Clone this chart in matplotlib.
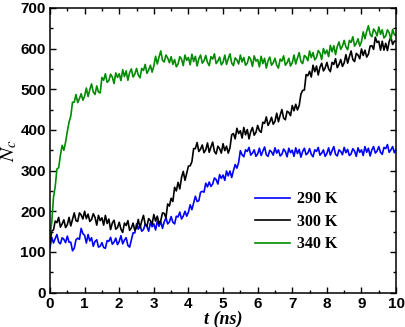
import numpy as np
import matplotlib
matplotlib.use("Agg")
import matplotlib.pyplot as plt
from matplotlib.ticker import MultipleLocator

plt.rcParams["mathtext.fontset"] = "stix"

# N_c every 0.05 ns (0 .. 10 ns), noise included
n_290 = [
    110, 136, 122, 133, 143, 124, 120, 135, 131, 123,
    139, 124, 124, 103, 109, 130, 134, 131, 158, 145,
    141, 122, 143, 127, 135, 114, 126, 130, 112, 114,
    123, 111, 109, 128, 126, 136, 119, 124, 134, 118,
    126, 140, 120, 129, 135, 116, 112, 129, 147, 147,
    169, 156, 166, 151, 155, 168, 163, 151, 172, 162,
    169, 154, 176, 163, 175, 158, 174, 184, 169, 174,
    187, 173, 169, 188, 186, 198, 181, 188, 200, 188,
    198, 216, 204, 221, 237, 224, 226, 247, 249, 247,
    269, 260, 272, 261, 267, 282, 278, 267, 290, 281,
    289, 276, 299, 287, 299, 283, 300, 315, 306, 320,
    349, 339, 334, 351, 347, 357, 338, 343, 351, 335,
    341, 355, 337, 348, 358, 339, 335, 350, 346, 338,
    356, 343, 351, 336, 340, 353, 347, 334, 355, 344,
    350, 335, 356, 342, 352, 333, 347, 355, 339, 343,
    354, 340, 334, 351, 347, 357, 338, 343, 351, 335,
    342, 356, 338, 349, 359, 340, 336, 351, 347, 339,
    357, 344, 352, 337, 341, 354, 348, 335, 356, 345,
    351, 337, 359, 345, 355, 336, 351, 359, 343, 348,
    359, 345, 340, 357, 354, 364, 345, 351, 359, 344,
    352,
]

n_300 = [
    122, 152, 154, 176, 172, 185, 161, 169, 179, 160,
    167, 185, 164, 180, 196, 177, 175, 196, 191, 181,
    200, 182, 193, 175, 180, 194, 185, 166, 190, 177,
    184, 166, 190, 170, 181, 155, 171, 178, 156, 160,
    173, 156, 148, 171, 165, 177, 153, 159, 171, 153,
    160, 180, 159, 176, 190, 168, 163, 182, 177, 168,
    192, 176, 188, 170, 177, 196, 195, 184, 218, 213,
    232, 224, 259, 250, 271, 255, 283, 298, 276, 293,
    311, 312, 322, 354, 354, 369, 347, 353, 363, 344,
    351, 368, 345, 358, 370, 347, 341, 360, 354, 343,
    366, 349, 360, 343, 356, 388, 391, 378, 404, 391,
    398, 380, 406, 388, 401, 378, 396, 406, 387, 394,
    411, 398, 394, 419, 416, 432, 411, 419, 431, 414,
    421, 441, 420, 436, 450, 429, 425, 446, 443, 435,
    460, 447, 463, 449, 460, 488, 497, 498, 536, 533,
    544, 530, 559, 543, 557, 535, 554, 564, 545, 552,
    566, 550, 543, 566, 561, 575, 553, 561, 573, 556,
    565, 585, 564, 580, 594, 573, 568, 588, 584, 575,
    599, 583, 596, 579, 586, 606, 607, 598, 628, 615,
    618, 596, 618, 596, 613, 595, 617, 628, 610, 618,
    618,
]

n_340 = [
    141, 173, 234, 261, 304, 307, 338, 362, 350, 370,
    396, 419, 434, 468, 468, 487, 467, 477, 489, 473,
    483, 503, 482, 499, 513, 493, 487, 508, 493, 491,
    529, 522, 538, 517, 521, 537, 530, 514, 540, 529,
    538, 521, 548, 531, 545, 522, 541, 550, 530, 537,
    551, 535, 528, 551, 546, 561, 539, 547, 559, 542,
    557, 581, 562, 579, 594, 571, 567, 584, 577, 565,
    580, 561, 573, 555, 562, 580, 574, 558, 584, 571,
    578, 560, 586, 568, 581, 557, 575, 584, 564, 570,
    583, 566, 558, 580, 574, 587, 563, 569, 579, 560,
    566, 584, 561, 575, 587, 564, 558, 577, 572, 562,
    584, 567, 578, 559, 564, 580, 573, 556, 582, 569,
    573, 555, 581, 563, 576, 552, 570, 579, 559, 565,
    576, 559, 552, 574, 569, 582, 559, 565, 576, 557,
    565, 584, 562, 577, 590, 568, 563, 583, 579, 570,
    594, 578, 590, 572, 578, 595, 589, 573, 600, 587,
    596, 580, 608, 592, 607, 585, 605, 616, 598, 606,
    620, 604, 597, 620, 615, 629, 606, 613, 624, 606,
    617, 641, 624, 642, 656, 635, 629, 648, 642, 631,
    653, 635, 646, 626, 631, 646, 639, 622, 647, 634,
    632,
]

t = np.linspace(0, 10, len(n_290))

series = [
    ("290 K", n_290, "#0000ff"),
    ("300 K", n_300, "#000000"),
    ("340 K", n_340, "#008c00"),
]

fig = plt.figure(figsize=(4.05, 3.27), dpi=100)
ax = fig.add_axes([0.1235, 0.105, 0.8545, 0.871])

for label, vals, color in series:
    ax.plot(t, vals, color=color, lw=1.2, label=label)

ax.set_xlim(0, 10)
ax.set_ylim(0, 700)
ax.xaxis.set_major_locator(MultipleLocator(1))
ax.xaxis.set_minor_locator(MultipleLocator(0.5))
ax.yaxis.set_major_locator(MultipleLocator(100))
ax.yaxis.set_minor_locator(MultipleLocator(50))
ax.tick_params(which="both", direction="in", top=True, right=True, width=1.0)
ax.tick_params(which="major", length=4, labelsize=11, pad=3)
ax.tick_params(which="minor", length=2.2)
for lab in ax.get_xticklabels() + ax.get_yticklabels():
    lab.set_fontfamily("Liberation Sans")
    lab.set_fontweight("bold")
for sp in ax.spines.values():
    sp.set_linewidth(1.1)

ax.set_xlabel("t (ns)", family="Liberation Serif", fontsize=13,
              fontweight="bold", style="italic", labelpad=0)
ax.set_ylabel(r"$N_c$", fontsize=15, labelpad=1)

ax.legend(loc="center left", bbox_to_anchor=(0.592, 0.249), frameon=False,
          borderpad=0, borderaxespad=0, handlelength=2.2, handletextpad=0.45,
          labelspacing=0.4,
          prop={"family": "Liberation Serif", "weight": "bold", "size": 11.5})

fig.savefig("out.png", dpi=100)
